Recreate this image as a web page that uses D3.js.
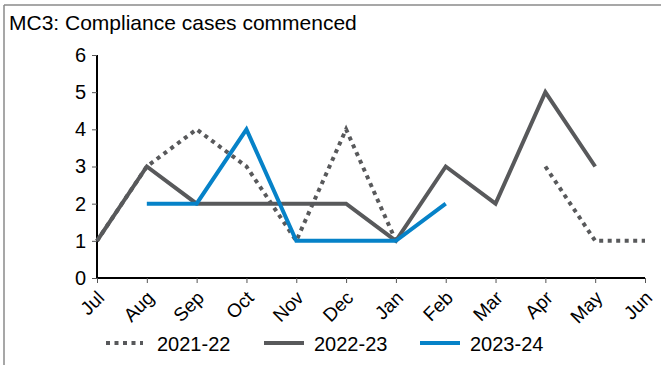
<!DOCTYPE html>
<html>
<head>
<meta charset="utf-8">
<script src="https://cdn.jsdelivr.net/npm/d3@7"></script>
<style>
  html, body { margin: 0; padding: 0; background: #fff; }
  svg { display: block; font-family: "Liberation Sans", Arial, sans-serif; }
</style>
</head>
<body>
<svg id="chart" width="661" height="365"></svg>
<script>
// Months of the financial year, July to June
const months = ["Jul", "Aug", "Sep", "Oct", "Nov", "Dec", "Jan", "Feb", "Mar", "Apr", "May", "Jun"];

// Compliance cases commenced per month (null = no figure)
const fy2122 = [1, 3, 4, 3, 1, 4, 1, null, null, 3, 1, 1];
const fy2223 = [1, 3, 2, 2, 2, 2, 1, 3, 2, 5, 3, null];
const fy2324 = [null, 2, 2, 4, 1, 1, 1, 2, null, null, null, null];

const yTicks = [0, 1, 2, 3, 4, 5, 6];
const seriesNames = ["2021-22", "2022-23", "2023-24"];

const grey = "#58595b";
const blue = "#0682c8";

const series = [
  { name: seriesNames[0], values: fy2122, color: grey, dash: "4,4.5" },
  { name: seriesNames[1], values: fy2223, color: grey, dash: null },
  { name: seriesNames[2], values: fy2324, color: blue, dash: null }
];

const svg = d3.select("#chart");

// Frame lines along the top and left edges
svg.append("line").attr("x1", 4).attr("x2", 661).attr("y1", 5).attr("y2", 5)
  .attr("stroke", "#8a8a8a").attr("stroke-width", 1.5);
svg.append("line").attr("x1", 4).attr("x2", 4).attr("y1", 5).attr("y2", 365)
  .attr("stroke", "#8a8a8a").attr("stroke-width", 1.5);

// Title
svg.append("text").attr("x", 9).attr("y", 30)
  .attr("font-size", 21).attr("fill", "#000")
  .text("MC3: Compliance cases commenced");

const x = d3.scalePoint().domain(months).range([97, 645]);
const y = d3.scaleLinear().domain([0, 6]).range([278, 55]);

// Y axis
const yAxis = svg.append("g").attr("transform", "translate(97,0)")
  .call(d3.axisLeft(y).tickValues(yTicks).tickFormat(d3.format("d")).tickSize(5).tickPadding(6));
yAxis.select(".domain").attr("stroke", "#000").attr("stroke-width", 2).attr("d", `M0,${y(6)}V${y(0)}`);
yAxis.selectAll(".tick line").attr("stroke", "#555");
yAxis.selectAll(".tick text").attr("font-size", 20).attr("font-family", "Liberation Sans, Arial, sans-serif").attr("fill", "#000");

// X axis
const xAxis = svg.append("g").attr("transform", `translate(0,${y(0)})`)
  .call(d3.axisBottom(x).tickSize(5).tickPadding(4));
xAxis.select(".domain").attr("stroke", "#000").attr("stroke-width", 2).attr("d", `M97,0H645`);
xAxis.selectAll(".tick line").attr("stroke", "#555");
xAxis.selectAll(".tick text")
  .attr("font-size", 19).attr("font-family", "Liberation Sans, Arial, sans-serif").attr("fill", "#000")
  .attr("text-anchor", "end")
  .attr("dy", null)
  .attr("transform", "translate(8,21) rotate(-45)")
  .attr("y", 0).attr("x", 0);

// Series lines
const line = d3.line()
  .defined(d => d != null)
  .x((d, i) => x(months[i]))
  .y(d => y(d));

svg.append("g").selectAll("path").data(series).join("path")
  .attr("d", s => line(s.values))
  .attr("fill", "none")
  .attr("stroke", s => s.color)
  .attr("stroke-width", 4)
  .attr("stroke-dasharray", s => s.dash)
  .attr("stroke-linejoin", "miter")
  .attr("stroke-linecap", "butt");

// Legend
const legendPos = [
  { sx: 106, sw: 37, tx: 157 },
  { sx: 264, sw: 40, tx: 314 },
  { sx: 420, sw: 40, tx: 470 }
];
const legend = svg.append("g").selectAll("g").data(series).join("g");
legend.append("line")
  .attr("x1", (s, i) => legendPos[i].sx)
  .attr("x2", (s, i) => legendPos[i].sx + legendPos[i].sw)
  .attr("y1", 343).attr("y2", 343)
  .attr("stroke", s => s.color).attr("stroke-width", 4)
  .attr("stroke-dasharray", s => s.dash);
legend.append("text")
  .attr("x", (s, i) => legendPos[i].tx).attr("y", 351)
  .attr("font-size", 20).attr("fill", "#000")
  .text(s => s.name);
</script>
</body>
</html>
